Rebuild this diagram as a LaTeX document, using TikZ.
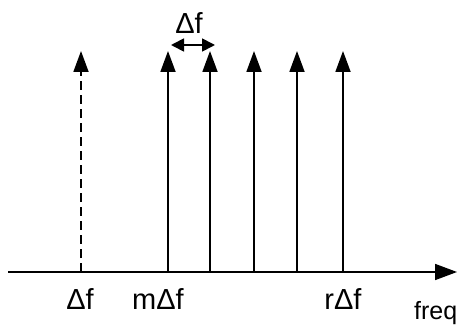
\documentclass[tikz,border=0pt]{standalone}
\usepackage{fontspec}
\setmainfont{Liberation Sans}
\usetikzlibrary{arrows.meta}
\begin{document}
\begin{tikzpicture}[x=1pt,y=-1pt,
  line/.style={line width=1.8pt},
  spike/.style={line, -{Triangle[length=21pt,width=15pt]}},
  lbl/.style={font=\fontsize{29}{29}\selectfont, inner sep=0pt}]
\useasboundingbox (0,0) rectangle (461,326);
% axis
\coordinate (a0) at (8,272);
\coordinate (a1) at (457,272);
\draw[line, -{Triangle[length=22pt,width=16pt]}] (a0) -- (a1);
% spikes
\coordinate (b1) at (81,272);  \coordinate (t1) at (81,51);
\coordinate (b2) at (168,272); \coordinate (t2) at (168,51);
\coordinate (b3) at (210,272); \coordinate (t3) at (210,51);
\coordinate (b4) at (254,272); \coordinate (t4) at (254,51);
\coordinate (b5) at (297,272); \coordinate (t5) at (297,51);
\coordinate (b6) at (343,272); \coordinate (t6) at (343,51);
\draw[spike, dash pattern=on 9pt off 5pt] (b1) -- (t1);
\draw[spike] (b2) -- (t2);
\draw[spike] (b3) -- (t3);
\draw[spike] (b4) -- (t4);
\draw[spike] (b5) -- (t5);
\draw[spike] (b6) -- (t6);
% double arrow
\coordinate (d0) at (171,45);
\coordinate (d1) at (215,45);
\draw[line, {Triangle[length=13pt,width=13pt]}-{Triangle[length=13pt,width=13pt]}] (d0) -- (d1);
% labels
\node[lbl] (top) at (189,23) {Δf};
\node[lbl] (l1) at (80,299) {Δf};
\node[lbl] (l2) at (158,299) {mΔf};
\node[lbl] (l3) at (343,299) {rΔf};
\node[lbl, font=\fontsize{25}{25}\selectfont, anchor=base west] (l4) at (414,319) {freq};
\end{tikzpicture}
\end{document}
